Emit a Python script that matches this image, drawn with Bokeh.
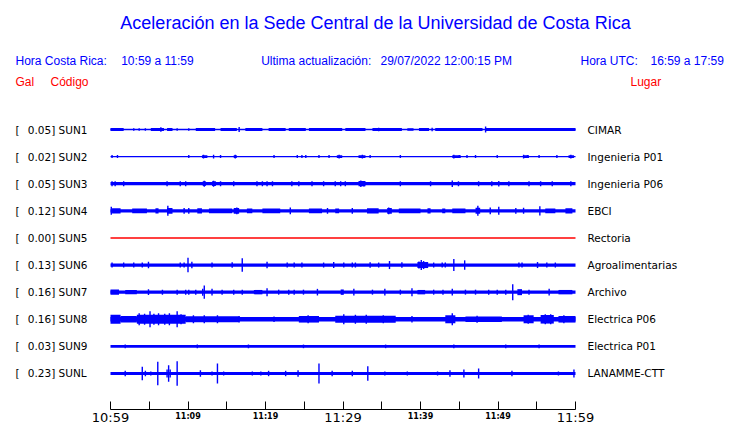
from bokeh.plotting import figure
from bokeh.models import Range1d, FixedTicker
from bokeh.core.properties import value
from bokeh.embed import file_html
from bokeh.resources import INLINE

# ---------------- data ----------------
TITLE = "Aceleración en la Sede Central de la Universidad de Costa Rica"
CODES = ["SUN1", "SUN2", "SUN3", "SUN4", "SUN5", "SUN6", "SUN7", "SUN8", "SUN9", "SUNL"]
PLACES = ["CIMAR", "Ingenieria P01", "Ingenieria P06", "EBCI", "Rectoria",
          "Agroalimentarias", "Archivo", "Electrica P06", "Electrica P01", "LANAMME-CTT"]
PEAK_GAL = [0.05, 0.02, 0.05, 0.12, 0.00, 0.13, 0.16, 0.16, 0.03, 0.23]
ACTIVE = [True, True, True, True, False, True, True, True, True, True]

T_START, T_END = 0, 60          # minutes after 10:59
TICK_MINUTES = [0, 10, 20, 30, 40, 50, 60]
TICK_LABELS = ["10:59", "11:09", "11:19", "11:29", "11:39", "11:49", "11:59"]
BIG_TICKS = [0, 30, 60]
MINOR_STEP = 5

# half-amplitudes of the steady noise band (counts)
BASE_AMP = [0.7, 0.6, 1.6, 1.7, 0.7, 1.6, 1.6, 2.3, 1.3, 1.6]

# stronger stretches: (start minute, end minute, half-amplitude counts)
SECTIONS_SUN1 = [(0.0, 1.7, 1.4), (5.2, 6.9, 1.4), (7.3, 8.0, 1.4), (11.0, 13.5, 1.4),
                 (14.2, 16.3, 1.4), (17.4, 19.6, 1.4), (20.4, 22.6, 1.4), (23.0, 25.2, 1.4),
                 (25.6, 29.9, 1.4), (30.3, 32.9, 1.4), (33.8, 37.6, 1.4), (38.3, 39.1, 1.2),
                 (39.8, 41.1, 1.4), (41.9, 48.0, 1.4), (48.4, 60.0, 1.4)]
SPIKES_SUN1 = [(3.0, 1.2), (3.7, 1.2), (4.5, 1.2), (8.6, 1.2), (10.1, 1.2), (6.5, 2.3),
               (16.6, 2.5), (34.6, 1.8), (41.5, 1.8), (48.4, 3.0)]

SECTIONS_SUN2 = [(11.8, 12.5, 1.3), (15.9, 16.3, 1.3), (29.2, 29.9, 1.3), (32.0, 32.9, 1.3),
                 (44.1, 45.2, 1.3), (53.3, 54.0, 1.3), (59.1, 59.8, 1.3)]
SPIKES_SUN2 = [(0.2, 1.5), (0.9, 1.5), (10.1, 1.5), (12.0, 1.8), (13.3, 1.8), (14.2, 1.5),
               (16.1, 1.8), (21.1, 1.5), (24.1, 1.5), (24.7, 1.5), (25.2, 1.5), (26.9, 1.5),
               (28.2, 1.5), (29.5, 1.8), (32.5, 1.8), (33.5, 1.5), (37.4, 1.5), (44.3, 1.8),
               (45.0, 1.5), (46.0, 1.5), (47.1, 1.5), (49.9, 1.5), (53.3, 1.8), (53.8, 1.5),
               (55.3, 1.5), (57.6, 1.5), (59.4, 1.8)]

SECTIONS_SUN3 = [(11.9, 12.3, 2.4), (13.1, 13.6, 2.4), (32.0, 32.9, 2.6)]
SPIKES_SUN3 = [(0.2, 2.5), (0.6, 2.5), (1.7, 2.5), (7.3, 2.5), (9.0, 2.5), (9.7, 2.5),
               (12.1, 3.0), (13.3, 3.0), (14.2, 2.5), (15.9, 2.5), (18.9, 2.5), (19.6, 2.5),
               (20.2, 2.5), (20.9, 2.5), (23.4, 2.5), (24.3, 2.5), (26.0, 2.5), (27.5, 2.5),
               (29.0, 2.5), (29.7, 2.5), (30.3, 2.5), (32.3, 3.3), (32.7, 2.8), (37.4, 2.5),
               (41.3, 2.5), (44.1, 3.3), (44.9, 2.5), (47.5, 2.5), (49.2, 2.5), (50.1, 2.8),
               (51.4, 2.5), (54.0, 2.5), (55.5, 2.5), (57.0, 2.5), (59.4, 2.5)]

SECTIONS_SUN4 = [(0.2, 1.3, 2.6), (2.8, 4.7, 2.4), (5.8, 6.2, 2.6), (7.3, 8.0, 2.8),
                 (11.2, 11.8, 2.6), (12.7, 15.7, 2.4), (15.9, 16.6, 2.8), (17.6, 18.3, 2.4),
                 (19.6, 21.9, 2.4), (25.6, 27.3, 2.4), (29.0, 29.5, 2.4), (33.1, 34.6, 2.6),
                 (35.7, 36.3, 2.8), (37.2, 40.0, 2.4), (40.9, 41.3, 2.6), (42.8, 43.2, 2.4),
                 (44.1, 45.8, 2.4), (47.1, 47.7, 3.0), (56.1, 57.4, 2.4), (58.7, 59.6, 2.6)]
SPIKES_SUN4 = [(0.1, 4.0), (7.4, 5.0), (9.5, 2.8), (10.1, 2.8), (16.3, 3.3), (23.2, 3.3),
               (28.0, 2.8), (31.2, 2.8), (35.9, 3.3), (47.4, 5.0), (49.0, 3.3), (50.1, 4.0),
               (52.3, 2.8), (53.3, 3.0), (55.4, 4.7)]

SECTIONS_SUN5 = []
SPIKES_SUN5 = []

SECTIONS_SUN6 = [(39.6, 40.9, 3.0)]
SPIKES_SUN6 = [(0.2, 2.5), (1.7, 2.5), (3.0, 2.5), (4.1, 2.5), (4.9, 3.3), (9.0, 2.5),
               (9.5, 2.5), (10.0, 7.3), (10.5, 3.3), (13.1, 2.5), (15.7, 2.8), (17.0, 6.7),
               (20.2, 3.3), (22.8, 2.5), (23.7, 2.5), (24.7, 2.5), (27.5, 2.5), (28.8, 3.0),
               (30.1, 2.5), (31.2, 2.5), (31.6, 2.5), (33.5, 2.8), (34.6, 2.5), (36.0, 4.0),
               (37.6, 2.8), (39.8, 3.5), (40.1, 5.0), (40.4, 4.0), (40.9, 3.0), (41.7, 2.5),
               (42.8, 2.5), (43.2, 2.5), (44.3, 6.0), (45.7, 4.7), (52.7, 2.5), (53.1, 2.5),
               (55.1, 3.0), (56.3, 2.5), (57.4, 2.5)]

SECTIONS_SUN7 = [(0.0, 1.1, 2.7), (1.9, 3.4, 2.2), (18.5, 19.6, 2.2), (29.7, 30.1, 2.7),
                 (39.6, 40.6, 2.2), (52.5, 53.1, 3.0), (57.8, 59.6, 2.2)]
SPIKES_SUN7 = [(4.9, 2.8), (6.7, 2.5), (8.6, 2.5), (9.7, 2.5), (10.1, 2.5), (11.0, 2.5),
               (11.9, 3.5), (12.1, 6.7), (13.1, 3.3), (14.4, 2.5), (15.9, 2.5), (17.0, 2.5),
               (20.2, 4.0), (21.7, 2.5), (23.0, 2.5), (23.7, 2.5), (24.9, 2.5), (26.7, 3.3),
               (31.4, 3.3), (33.8, 2.5), (35.4, 3.3), (37.4, 2.5), (38.9, 4.0), (41.7, 2.5),
               (42.9, 2.5), (44.1, 3.3), (45.8, 2.5), (47.1, 2.5), (48.8, 2.5), (49.9, 2.5),
               (51.0, 2.5), (51.9, 8.0), (54.0, 2.5), (56.6, 3.3)]

SECTIONS_SUN8 = [(0.0, 1.3, 4.5), (1.3, 3.4, 3.3), (3.4, 9.7, 4.6), (9.7, 16.6, 3.0),
                 (24.3, 26.9, 3.3), (29.0, 36.8, 3.6), (43.2, 44.5, 4.0), (45.8, 50.5, 2.8),
                 (53.3, 54.6, 4.0), (55.5, 57.2, 4.3), (57.8, 60.0, 3.3)]
SPIKES_SUN8 = [(5.1, 8.0), (8.6, 8.0), (6.2, 6.0), (3.7, 6.0), (12.1, 4.0), (16.6, 3.3),
               (21.1, 2.8), (38.9, 3.3), (44.1, 6.0), (56.1, 5.0), (30.1, 5.0),
               (4.4, 5.5), (5.6, 5.5), (7.0, 5.5), (7.6, 6.0), (9.1, 5.0), (10.7, 4.0),
               (13.8, 4.0), (25.5, 4.0), (31.6, 4.5), (33.0, 4.5), (35.2, 4.0), (47.3, 3.5),
               (53.9, 4.5), (56.8, 5.0), (58.5, 4.0)]

SECTIONS_SUN9 = []
SPIKES_SUN9 = [(1.9, 1.8), (11.2, 1.8), (17.8, 1.8), (24.9, 1.8), (35.5, 1.8), (44.3, 1.8),
               (51.0, 1.8), (55.3, 1.8)]

SECTIONS_SUNL = []
SPIKES_SUNL = [(1.9, 2.7), (4.1, 6.7), (4.5, 2.7), (5.2, 2.0), (6.1, 11.7), (7.3, 4.0),
               (7.5, 8.3), (7.7, 4.0), (8.6, 12.3), (11.6, 3.3), (13.1, 2.0), (13.8, 10.0),
               (14.6, 2.0), (18.3, 2.0), (19.4, 2.0), (20.4, 2.7), (22.6, 2.7), (24.2, 3.3),
               (26.9, 10.0), (28.6, 2.7), (31.2, 2.7), (33.2, 7.3), (35.4, 2.0), (38.3, 2.0),
               (42.2, 2.0), (43.8, 3.3), (45.6, 4.0), (47.5, 5.0), (51.8, 2.7), (57.8, 2.0),
               (59.8, 4.0)]

SECTIONS = [SECTIONS_SUN1, SECTIONS_SUN2, SECTIONS_SUN3, SECTIONS_SUN4, SECTIONS_SUN5,
            SECTIONS_SUN6, SECTIONS_SUN7, SECTIONS_SUN8, SECTIONS_SUN9, SECTIONS_SUNL]
SPIKES = [SPIKES_SUN1, SPIKES_SUN2, SPIKES_SUN3, SPIKES_SUN4, SPIKES_SUN5,
          SPIKES_SUN6, SPIKES_SUN7, SPIKES_SUN8, SPIKES_SUN9, SPIKES_SUNL]

# ---------------- layout helpers (screen pixels) ----------------
W = 740
FRAME_H = 423        # frame fills the whole visible window
BOTTOM_PANEL = 30    # axis panel sits below the visible area
H = FRAME_H + BOTTOM_PANEL
PX_PER_MIN = 7.75
ROW_PX = 27.11
X0_PX = 110          # pixel of minute 0
ROW1_PX = 129        # pixel of row 1
AXIS_PX = 409        # pixel of the time axis line
GAIN = 1.0 / ROW_PX  # counts -> row units


def xs(px):  # pixel -> minutes
    return (px - X0_PX) / PX_PER_MIN


def ys(py):  # pixel -> row units
    return 1 + (py - ROW1_PX) / ROW_PX


BLUE = "#0000ff"
RED = "#ff0000"

p = figure(width=W, height=H, output_backend="svg", toolbar_location=None,
           x_range=Range1d(xs(0), xs(W)), y_range=Range1d(ys(FRAME_H), ys(0)),
           min_border_left=0, min_border_right=0, min_border_top=0,
           min_border_bottom=BOTTOM_PANEL, y_axis_location=None)
p.grid.visible = False
p.outline_line_color = None
p.background_fill_color = "white"
p.border_fill_color = "white"

# traces
for i in range(len(CODES)):
    row = i + 1
    col = BLUE if ACTIVE[i] else RED
    p.hbar(y=[row], left=[T_START], right=[T_END], height=[2 * BASE_AMP[i] * GAIN],
           color=col, line_color=None)
    if SECTIONS[i]:
        p.hbar(y=[row] * len(SECTIONS[i]), left=[s[0] for s in SECTIONS[i]],
               right=[s[1] for s in SECTIONS[i]], height=[2 * s[2] * GAIN for s in SECTIONS[i]],
               color=col, line_color=None)
    if SPIKES[i]:
        p.segment(x0=[s[0] for s in SPIKES[i]], x1=[s[0] for s in SPIKES[i]],
                  y0=[row - s[1] * GAIN for s in SPIKES[i]],
                  y1=[row + s[1] * GAIN for s in SPIKES[i]],
                  line_color=col, line_width=1.4)

# station labels
rows = list(range(1, len(CODES) + 1))
p.text(x=[xs(15)] * len(rows), y=rows, text=["["] * len(rows),
       text_font=value("DejaVu Sans"), text_font_size="10.5px", text_color="black",
       text_baseline="middle", text_align="left")
p.text(x=[xs(27.3)] * len(rows), y=rows,
       text=[f"{g:.2f}] {c}" for g, c in zip(PEAK_GAL, CODES)],
       text_font=value("DejaVu Sans"), text_font_size="10.5px", text_color="black",
       text_baseline="middle", text_align="left")
p.text(x=[xs(587)] * len(rows), y=rows, text=PLACES,
       text_font=value("DejaVu Sans"), text_font_size="10.5px", text_color="black",
       text_baseline="middle", text_align="left")

# header
p.text(x=[xs(375)], y=[ys(22)], text=[TITLE], text_font=value("Liberation Sans"),
       text_font_size="18px", text_color=BLUE, text_baseline="middle", text_align="center")
hdr_x = [xs(15), xs(120.7), xs(260.7), xs(380), xs(580), xs(650)]
hdr_t = ["Hora Costa Rica:", "10:59 a 11:59", "Ultima actualización:",
         "29/07/2022 12:00:15 PM", "Hora UTC:", "16:59 a 17:59"]
p.text(x=hdr_x, y=[ys(60.5)] * len(hdr_x), text=hdr_t, text_font=value("Liberation Sans"),
       text_font_size="12px", text_color=BLUE, text_baseline="middle", text_align="left")
p.text(x=[xs(15), xs(50), xs(630)], y=[ys(81.5)] * 3, text=["Gal", "Código", "Lugar"],
       text_font=value("Liberation Sans"), text_font_size="12px", text_color=RED,
       text_baseline="middle", text_align="left")

# time axis (drawn at a fixed location inside the frame)
ax = p.xaxis[0]
ax.fixed_location = ys(AXIS_PX)
ax.ticker = FixedTicker(ticks=list(range(T_START, T_END + 1, MINOR_STEP)), minor_ticks=[])
ax.bounds = (T_START, T_END)
ax.major_label_overrides = {t: (TICK_LABELS[TICK_MINUTES.index(t)] if t in BIG_TICKS else "")
                            for t in range(T_START, T_END + 1, MINOR_STEP)}
ax.major_tick_in = 8
ax.major_tick_out = 0
ax.minor_tick_in = 0
ax.minor_tick_out = 0
ax.axis_line_color = "black"
ax.major_tick_line_color = "black"
ax.major_label_standoff = 0
ax.major_label_text_font = "DejaVu Sans"
ax.major_label_text_font_size = "13px"
ax.major_label_text_color = "black"

small = [(t, lab) for t, lab in zip(TICK_MINUTES, TICK_LABELS) if t not in BIG_TICKS]
p.text(x=[t for t, _ in small], y=[ys(415.5)] * len(small), text=[lab for _, lab in small],
       text_font=value("DejaVu Sans"), text_font_size="8px", text_font_style="bold",
       text_color="black", text_baseline="middle", text_align="center")

open("out.html", "w").write(file_html(p, INLINE))
